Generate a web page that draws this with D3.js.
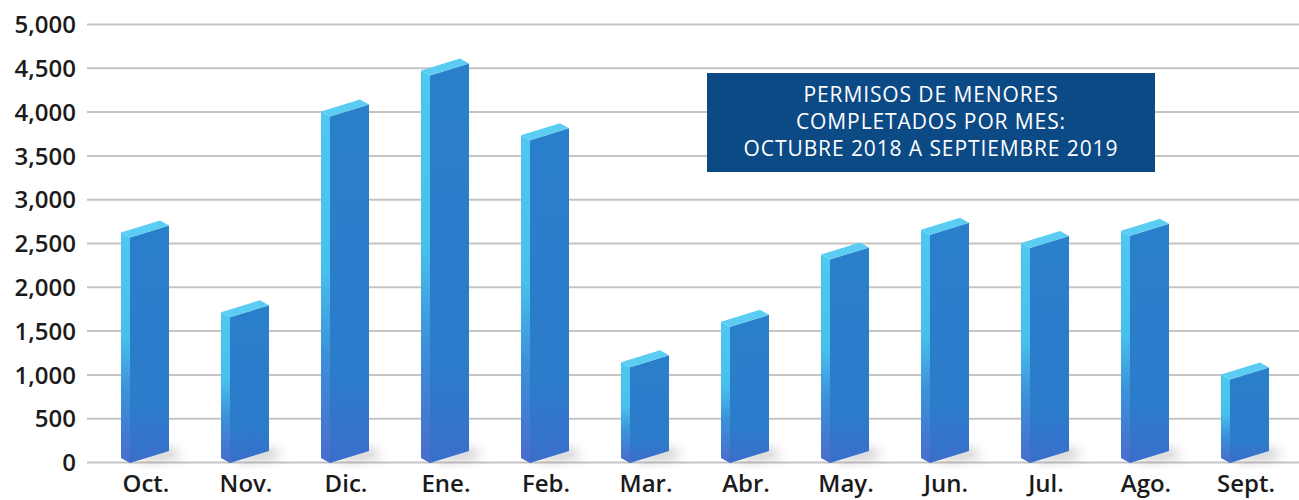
<!DOCTYPE html>
<html>
<head>
<meta charset="utf-8">
<script src="https://cdn.jsdelivr.net/npm/d3@7"></script>
<style>
  body { margin: 0; background: #fff; }
  text { font-family: "Open Sans", "Noto Sans", sans-serif; }
</style>
</head>
<body>
<div id="chart"></div>
<script>
// data
const months = ['Oct.', 'Nov.', 'Dic.', 'Ene.', 'Feb.', 'Mar.', 'Abr.', 'May.', 'Jun.', 'Jul.', 'Ago.', 'Sept.']
const permits = [2620, 1710, 4000, 4470, 3730, 1140, 1600, 2370, 2650, 2500, 2640, 1000]
const yTicks = [0, 500, 1000, 1500, 2000, 2500, 3000, 3500, 4000, 4500, 5000]
const titleLines = ['PERMISOS DE MENORES', 'COMPLETADOS POR MES:', 'OCTUBRE 2018 A SEPTIEMBRE 2019']

const width = 1299
const height = 500

// bar shape
let sideW = 9
let frontW = 39
let sideDrop = 5
let slant = 12

let frontC = '#2a7fca'
let sideTopC = '#4ec8f0'
let topC = '#5ccdf2'
let gridC = '#c4c4c4'
let labelC = '#1b1b1b'

const svg = d3.select('#chart').append('svg')
  .attr('width', width)
  .attr('height', height)

const x = d3.scalePoint()
  .domain(months)
  .range([96, 1296])
  .padding(0.5)

const y = d3.scaleLinear()
  .domain([0, 5000])
  .range([462, 24])

const defs = svg.append('defs')

const gFront = defs.append('linearGradient')
  .attr('id', 'gFront').attr('x1', 0).attr('y1', 0).attr('x2', 0).attr('y2', 1)
gFront.append('stop').attr('offset', '0%').attr('stop-color', frontC)
gFront.append('stop').attr('offset', '75%').attr('stop-color', '#2b7ccb')
gFront.append('stop').attr('offset', '100%').attr('stop-color', '#3a6fcb')

const gSide = defs.append('linearGradient')
  .attr('id', 'gSide').attr('x1', 0).attr('y1', 0).attr('x2', 0).attr('y2', 1)
gSide.append('stop').attr('offset', '0%').attr('stop-color', sideTopC)
gSide.append('stop').attr('offset', '45%').attr('stop-color', '#47c0ec')
gSide.append('stop').attr('offset', '70%').attr('stop-color', '#3c8fd8')
gSide.append('stop').attr('offset', '100%').attr('stop-color', '#4a6ccd')

const blur = defs.append('filter')
  .attr('id', 'shadow')
  .attr('x', '-50%').attr('y', '-50%').attr('width', '200%').attr('height', '200%')
blur.append('feGaussianBlur').attr('stdDeviation', 6)

// ----------------------------------------
// Grid + y axis
// ----------------------------------------
const yAxis = d3.axisLeft(y)
  .tickValues(yTicks)
  .tickSize(-(width - 87))
  .tickFormat(d3.format(','))

svg.append('g')
  .attr('class', 'y-axis')
  .attr('transform', 'translate(87,0)')
  .call(yAxis)
  .call(g => g.select('.domain').remove())
  .call(g => g.selectAll('.tick line')
    .attr('stroke', gridC)
    .attr('stroke-width', 2))
  .call(g => g.selectAll('.tick text')
    .attr('x', -11)
    .attr('dy', '0.36em')
    .style('font-size', '24px')
    .style('font-weight', 600)
    .style('fill', labelC))

// ----------------------------------------
// Bars
// ----------------------------------------
const data = months.map((m, i) => ({ month: m, value: permits[i] }))

const bars = svg.append('g').attr('class', 'bars')
  .selectAll('g')
  .data(data)
  .enter().append('g')

function pts (arr) { return arr.map(p => p.join(',')).join(' ') }

// soft shadow on the floor
bars.append('polygon')
  .attr('points', d => {
    const bx = x(d.month) - 25
    const b = y(0)
    return pts([[bx + sideW + 4, b - 3], [bx + sideW + frontW, b - 14], [bx + sideW + frontW + 14, b - 6], [bx + sideW + 16, b]])
  })
  .style('fill', '#666')
  .style('opacity', 0.4)
  .style('filter', 'url(#shadow)')

// left face
bars.append('polygon')
  .attr('points', d => {
    const bx = x(d.month) - 25
    const t = y(d.value)
    const b = y(0)
    return pts([[bx, t], [bx + sideW, t + sideDrop], [bx + sideW, b + 1], [bx, b - 4]])
  })
  .style('fill', 'url(#gSide)')

// front face
bars.append('polygon')
  .attr('points', d => {
    const bx = x(d.month) - 25
    const t = y(d.value)
    const b = y(0)
    const fx = bx + sideW
    return pts([[fx, t + sideDrop], [fx + frontW, t + sideDrop - slant], [fx + frontW, b + 1 - slant], [fx, b + 1]])
  })
  .style('fill', 'url(#gFront)')

// top face
bars.append('polygon')
  .attr('points', d => {
    const bx = x(d.month) - 25
    const t = y(d.value)
    const fx = bx + sideW
    return pts([[bx, t], [fx, t + sideDrop], [fx + frontW, t + sideDrop - slant], [bx + frontW, t - slant]])
  })
  .style('fill', topC)

// ----------------------------------------
// Month labels
// ----------------------------------------
svg.append('g')
  .selectAll('text')
  .data(months)
  .enter().append('text')
    .attr('x', d => x(d))
    .attr('y', 492)
    .style('text-anchor', 'middle')
    .style('font-size', '24px')
    .style('font-weight', 600)
    .style('fill', labelC)
    .text(d => d)

// ----------------------------------------
// Title box
// ----------------------------------------
const titleG = svg.append('g').attr('class', 'title')

titleG.append('rect')
  .attr('x', 707)
  .attr('y', 73)
  .attr('width', 448)
  .attr('height', 99)
  .style('fill', '#0c4a86')

titleG.selectAll('text')
  .data(titleLines)
  .enter().append('text')
    .attr('x', 931)
    .attr('y', (d, i) => 102 + i * 27)
    .style('text-anchor', 'middle')
    .style('font-size', '21px')
    .style('letter-spacing', '0.9px')
    .style('fill', '#fff')
    .text(d => d)
</script>
</body>
</html>
